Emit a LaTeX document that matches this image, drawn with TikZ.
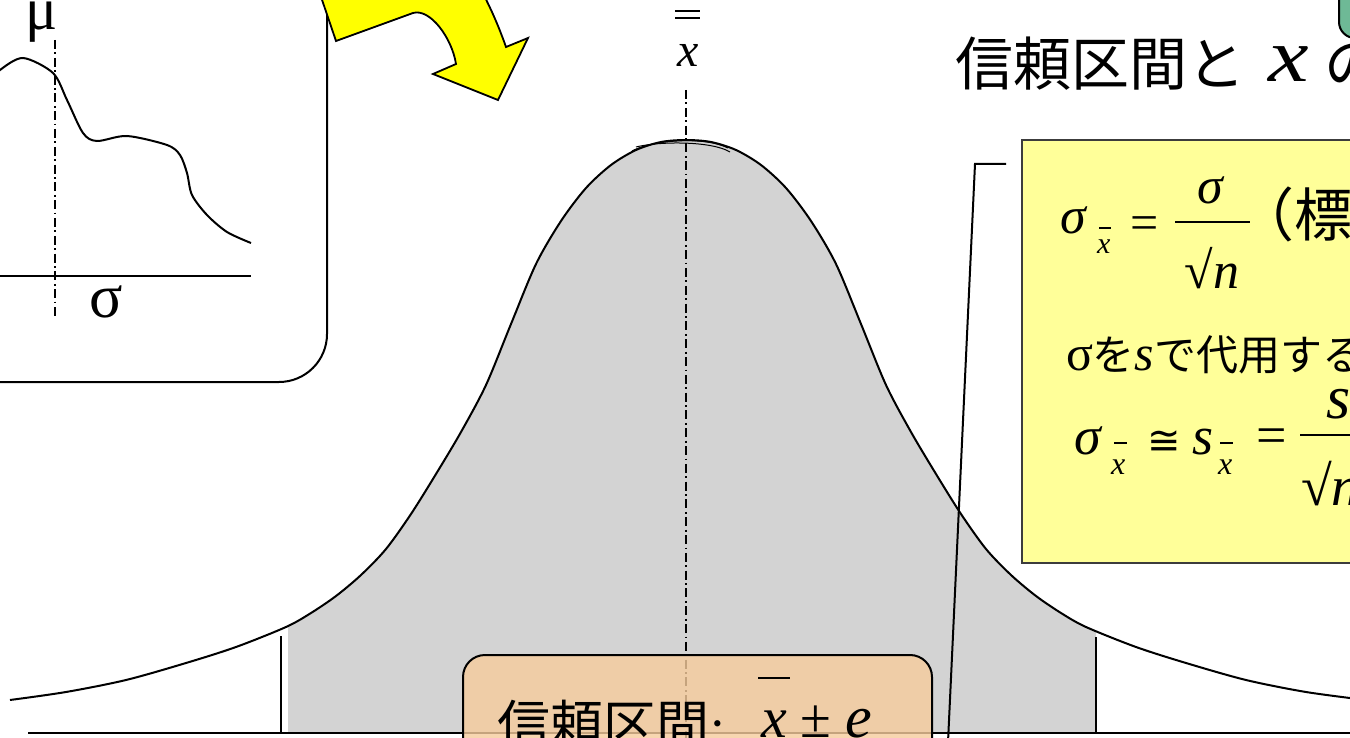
\documentclass[tikz,border=0pt]{standalone}
\usepackage{fontspec}
\setmainfont{Liberation Serif}
\newfontfamily\cjk{Noto Sans CJK JP}
\newfontfamily\dvs{DejaVu Sans}
\newcommand{\fsz}[1]{\fontsize{#1}{#1}\selectfont}
\definecolor{grayfill}{RGB}{211,211,211}
\definecolor{ybox}{RGB}{255,255,153}
\definecolor{obox}{RGB}{247,204,157}
\definecolor{arrowy}{RGB}{255,255,0}
\definecolor{gtab}{RGB}{110,185,150}
\definecolor{yborder}{RGB}{60,60,60}
\tikzset{
  txt/.style={inner sep=0pt, outer sep=0pt},
  dashdot/.style={line width=1.6pt, dash pattern=on 9pt off 3.5pt on 1.8pt off 3.5pt},
  curveline/.style={line width=2pt},
  boxline/.style={line width=2pt},
}
\begin{document}
\begin{tikzpicture}[x=1pt,y=-1pt]
\useasboundingbox (0,0) rectangle (1350,738);
\clip (0,0) rectangle (1350,738);
\fill[white] (0,0) rectangle (1350,738);

% ---------- big bell curve ----------
\def\bell{(10,700) (66,692) (126,680) (186,663) (236,647) (286,627) (311,613) (336,596) (361,575) (386,549) (411,514) (436,474) (461,432) (486,385) (511,324) (536,264) (561,221) (586,188) (611,165) (636,150) (661,142) (686,140) (711,142) (736,150) (761,165) (786,188) (811,221) (836,264) (861,324) (886,385) (911,432) (936,474) (961,514) (986,549) (1011,575) (1036,596) (1061,613) (1086,627) (1136,647) (1186,663) (1246,680) (1306,692) (1366,700)}
\begin{scope}
  \clip (288,0) rectangle (1096,733);
  \fill[grayfill] plot[smooth] coordinates {\bell} -- (1366,733) -- (10,733) -- cycle;
\end{scope}
\draw[curveline] plot[smooth] coordinates {\bell};
\draw[line width=1pt] (632,151) .. controls (652,140) and (705,136) .. (728,148);
\draw[line width=1pt] (636,147) .. controls (660,141) and (712,141) .. (730,152);

\coordinate (baseL) at (28,733);
\coordinate (baseR) at (1352,733);
\draw[boxline] (baseL) -- (baseR);
\coordinate (vlTop) at (281,636);
\coordinate (vlBot) at (281,733);
\coordinate (vrTop) at (1096,637);
\coordinate (vrBot) at (1096,733);
\draw[boxline] (vlTop) -- (vlBot);
\draw[boxline] (vrTop) -- (vrBot);

% center dash-dot and double-bar x
\coordinate (cTop) at (686,90);
\coordinate (cBot) at (686,740);
\draw[dashdot] (cTop) -- (cBot);
\draw[line width=1.6pt] (675,11) -- (700,11);
\draw[line width=1.6pt] (675,18) -- (700,18);
\node[txt, anchor=base] (xbb) at (688,67) {\fsz{48}\itshape x};

% ---------- left inset box ----------
\draw[boxline, rounded corners=48pt] (-80,-80) rectangle (327,382);
\draw[curveline] plot[smooth] coordinates {(-5,78) (0,70) (23,58) (53,73) (67,100) (83,133) (97,141) (127,136) (167,145) (180,155) (187,173) (192,195) (207,215) (227,232) (251,243)};
\coordinate (axL) at (-5,276);
\coordinate (axR) at (251,276);
\draw[boxline] (axL) -- (axR);
\coordinate (muTop) at (55,40);
\coordinate (muBot) at (55,316);
\draw[dashdot] (muTop) -- (muBot);
\node[txt, anchor=base] (mu) at (42,30) {\fsz{60}μ};
\node[txt, anchor=base] (sigL) at (106,317) {\fsz{62}σ};

% ---------- yellow curved arrow ----------
\draw[fill=arrowy, line width=1.8pt, line join=miter]
  (318,-12) -- (336,41) -- (413,13)
  .. controls (430,8) and (452,38) .. (456,64)
  -- (433,74) -- (498,100) -- (528,38) -- (506,47)
  .. controls (500,30) and (492,10) .. (480,-12) -- cycle;

% ---------- title ----------
\node[txt, anchor=base west] (title1) at (955,86) {\cjk\fsz{58}信頼区間と};
\node[txt, anchor=base west] (titlex) at (1268,82) {\fsz{76}\scalebox{1.2}[1]{\itshape x}};
\node[txt, anchor=base west] (title2) at (1324,86) {\cjk\fsz{58}の};
\draw[boxline, fill=gtab, rounded corners=16pt] (1339,-40) rectangle (1420,38);

% ---------- yellow formula box ----------
\draw[line width=2pt, draw=yborder, fill=ybox] (1022,140) rectangle (1420,563);
\coordinate (k1) at (1006,164);
\coordinate (k2) at (975,164);
\coordinate (k3) at (948,742);
\draw[boxline] (k1) -- (k2) -- (k3);

% row 1
\node[txt, anchor=base west] (r1sig) at (1060,234) {\fsz{52}\itshape σ};
\node[txt, anchor=base west] (r1sub) at (1097,254) {\fsz{30}\itshape x};
\draw[line width=1.2pt] (1099,228) -- (1111,228);
\node[txt, anchor=base] (r1eq) at (1145,240) {\fsz{50}=};
\draw[line width=1.6pt] (1175,222) -- (1250,222);
\node[txt, anchor=base] (r1num) at (1210,204) {\fsz{52}\itshape σ};
\node[txt, anchor=base] (r1den) at (1212,289) {\fsz{52}√\itshape n};
\node[txt, anchor=base west] (r1par) at (1236,237) {\cjk\fsz{58}（標};

% row 2
\node[txt, anchor=base west] (r2) at (1066,370) {\fsz{50}σ{\cjk\fsz{42}を}{\itshape s}{\cjk\fsz{42}で代用する}};

% row 3
\node[txt, anchor=base west] (r3sig) at (1074,454) {\fsz{54}\itshape σ};
\node[txt, anchor=base west] (r3sub1) at (1111,474) {\fsz{32}\itshape x};
\draw[line width=1.2pt] (1114,443) -- (1127,443);
\node[txt, anchor=base] (r3cong) at (1164,454) {\dvs\fsz{40}≅};
\node[txt, anchor=base west] (r3s) at (1192,454) {\fsz{54}\itshape s};
\node[txt, anchor=base west] (r3sub2) at (1218,474) {\fsz{32}\itshape x};
\draw[line width=1.2pt] (1220,443) -- (1233,443);
\node[txt, anchor=base] (r3eq) at (1272,453) {\fsz{54}=};
\draw[line width=1.6pt] (1300,435) -- (1360,435);
\node[txt, anchor=base west] (r3num) at (1326,418) {\fsz{62}\itshape s};
\node[txt, anchor=base west] (r3den) at (1301,505) {\fsz{56}√\itshape n};

% ---------- orange box ----------
\draw[boxline, fill=obox, fill opacity=0.8, rounded corners=22pt] (463,655) rectangle (932,800);
\node[txt, anchor=base west] (ci) at (497,744) {\cjk\fsz{53}信頼区間};
\node[txt, anchor=base] (cicol) at (718,745) {\fsz{53}:};
\draw[line width=2pt] (758,678) -- (790,678);
\node[txt, anchor=base west] (cix) at (761,737) {\fsz{58}\itshape x};
\node[txt, anchor=base] (cipm) at (816,737) {\fsz{56}±};
\node[txt, anchor=base west] (cie) at (845,737) {\fsz{60}\itshape e};
\end{tikzpicture}
\end{document}
